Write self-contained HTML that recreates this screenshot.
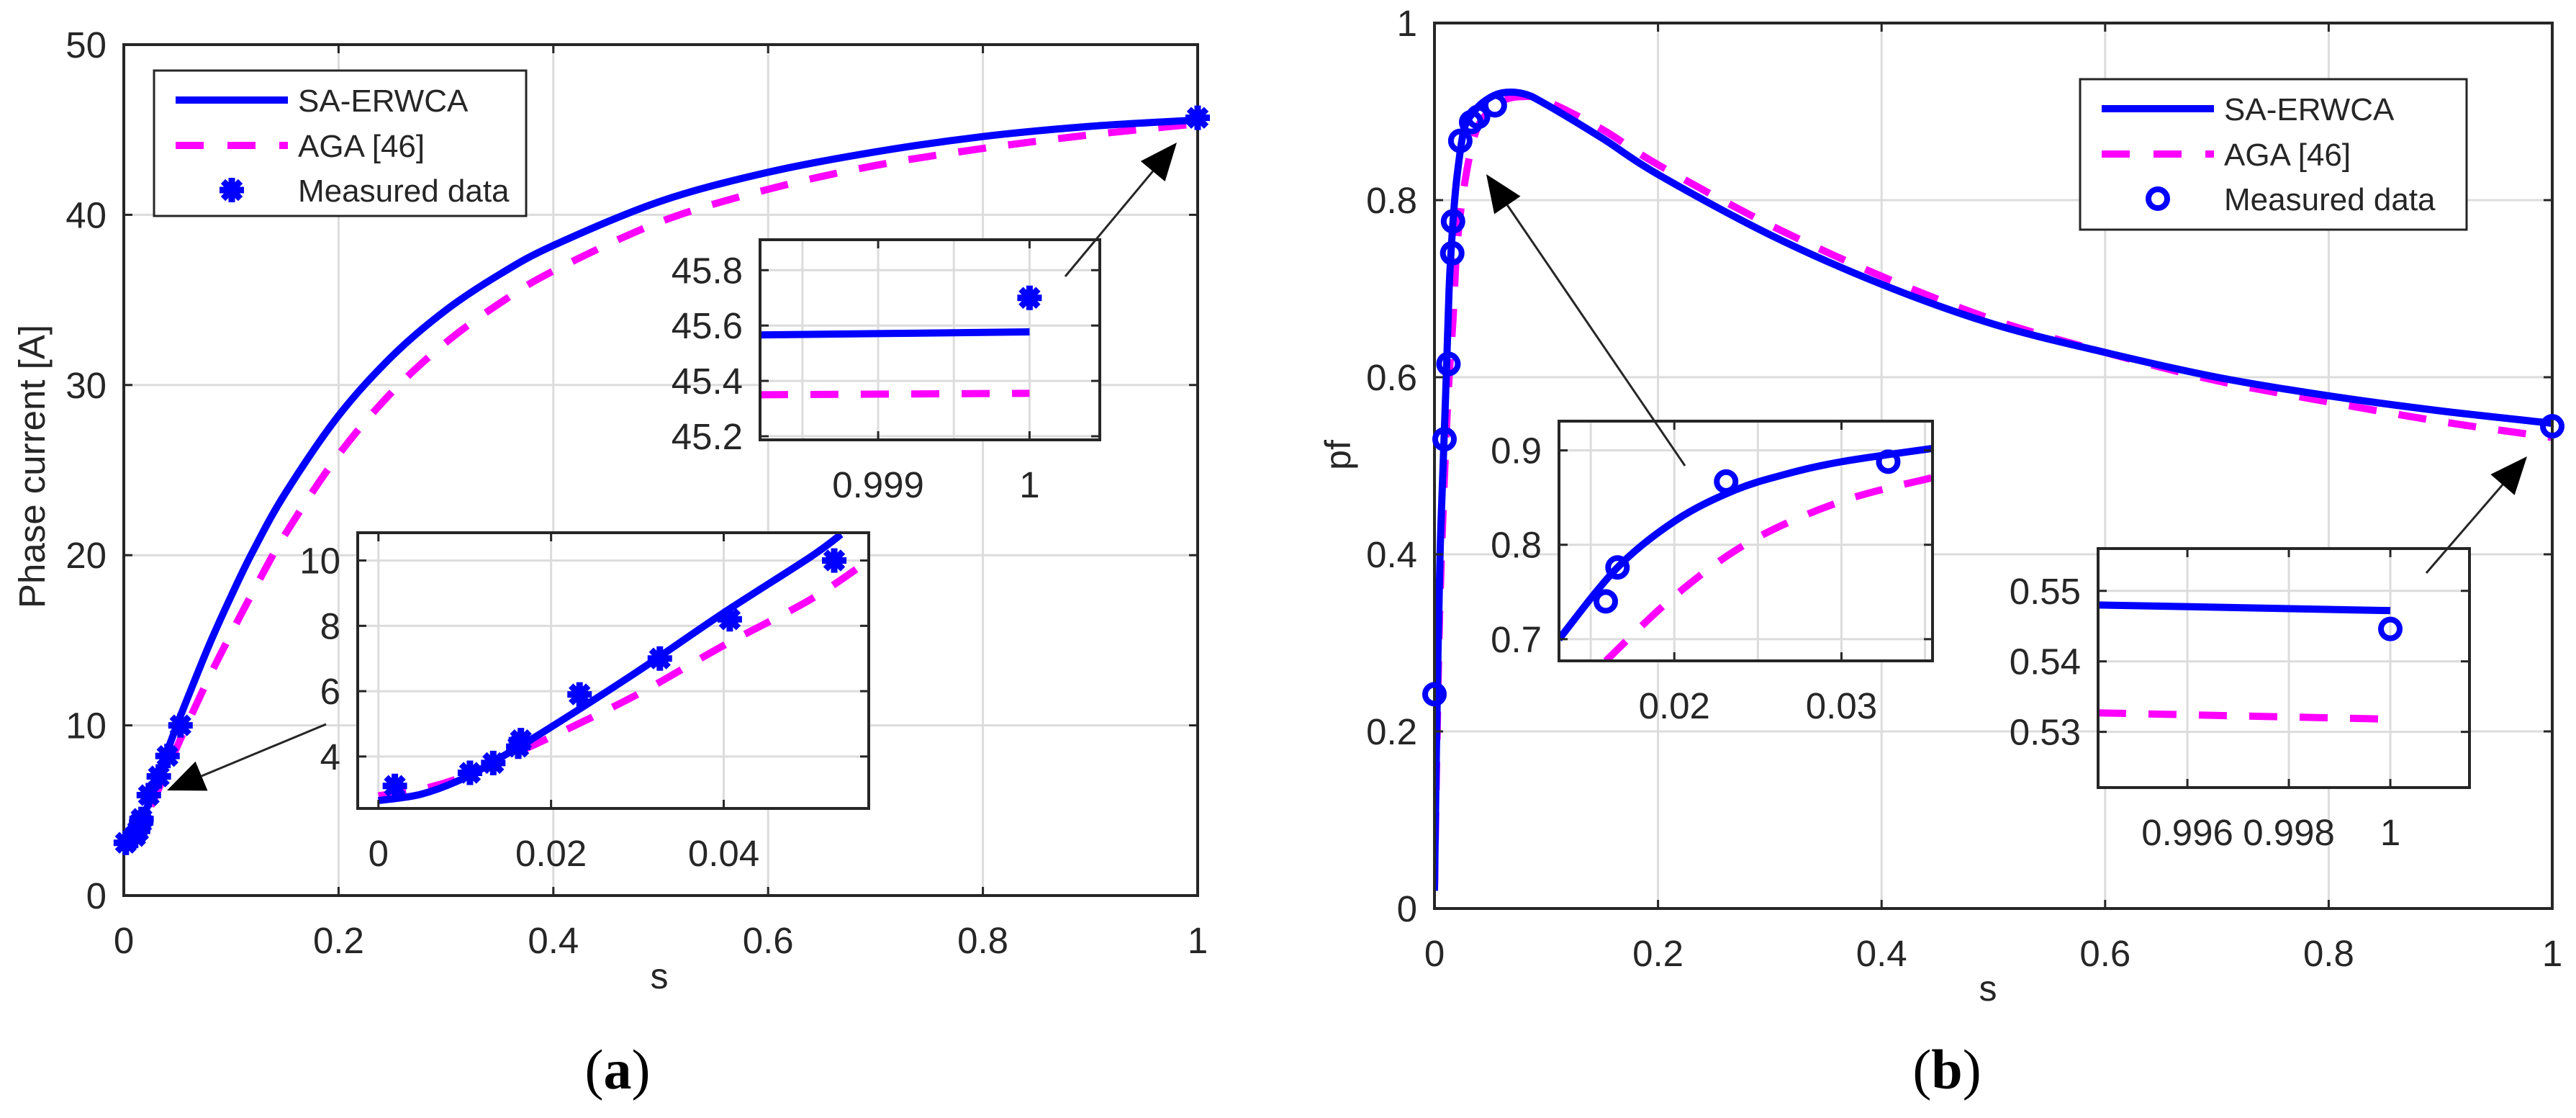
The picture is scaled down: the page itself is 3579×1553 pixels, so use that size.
<!DOCTYPE html>
<html><head><meta charset="utf-8"><style>
html,body{margin:0;padding:0;background:#fff;}
svg{display:block;font-family:"Liberation Sans",Arial,sans-serif;}
</style></head><body>
<svg id="fig" xmlns="http://www.w3.org/2000/svg" width="3579" height="1553" viewBox="0 0 3579 1553"></svg>
<script>
// ---------- Panel (a) data ----------
const aS      = [0,0.01,0.02,0.03,0.04,0.05,0.06,0.08,0.1,0.12,0.15,0.2,0.25,0.3,0.35,0.4,0.5,0.6,0.7,0.8,0.9,1];
const aBlue   = [2.65,3.35,4.9,6.6,8.4,10.1,11.7,14.8,17.6,20.2,23.6,28.2,31.7,34.4,36.5,38.2,40.8,42.5,43.7,44.6,45.2,45.57];
const aMag    = [2.8,3.4,4.6,5.9,7.4,8.8,10.2,12.9,15.4,17.8,21.2,25.9,29.6,32.5,34.8,36.7,39.6,41.5,42.9,43.9,44.7,45.35];
const aMeasS  = [0.0019,0.0106,0.0133,0.0162,0.0165,0.0233,0.0326,0.0407,0.0528,1];
const aMeasI  = [3.1,3.5,3.8,4.3,4.5,5.9,7.0,8.2,10.0,45.7];
const aXTicks = [0,0.2,0.4,0.6,0.8,1];
const aXLabels= ["0","0.2","0.4","0.6","0.8","1"];
const aYTicks = [0,10,20,30,40,50];
const aYLabels= ["0","10","20","30","40","50"];
// inset a1 (near s=1)
const a1S     = [0.99822,1];
const a1Blue  = [45.566,45.577];
const a1Mag   = [45.35,45.355];
const a1XTicks= [0.999,1];
const a1XLabels=["0.999","1"];
const a1XGrid = [0.9985,0.999,0.9995,1];
const a1YTicks= [45.2,45.4,45.6,45.8];
const a1YLabels=["45.2","45.4","45.6","45.8"];
// inset a2 (small s)
const a2S     = [0,0.005,0.01,0.015,0.02,0.03,0.04,0.05,0.0536];
const a2Blue  = [2.65,2.85,3.35,4.1,4.9,6.6,8.4,10.1,10.8];
const a2MS    = [0,0.005,0.01,0.015,0.02,0.03,0.04,0.05,0.0568];
const a2Mag   = [2.8,3.0,3.4,4.0,4.6,5.9,7.4,8.8,10.0];
const a2XTicks= [0,0.02,0.04];
const a2XLabels=["0","0.02","0.04"];
const a2YTicks= [4,6,8,10];
const a2YLabels=["4","6","8","10"];
// ---------- Panel (b) data ----------
const bS      = [0,0.002,0.005,0.01,0.0131,0.0166,0.0201,0.0265,0.0354,0.045,0.06,0.08,0.1,0.15,0.2,0.3,0.4,0.5,0.6,0.7,0.8,0.9,1];
const bBlue   = [0.02,0.2,0.4,0.58,0.70,0.776,0.826,0.88,0.90,0.912,0.921,0.92,0.908,0.87,0.829,0.761,0.705,0.660,0.628,0.600,0.579,0.562,0.548];
const bMag    = [0.02,0.17,0.35,0.52,0.60,0.665,0.747,0.815,0.871,0.895,0.912,0.917,0.912,0.88,0.84,0.772,0.714,0.665,0.628,0.596,0.572,0.550,0.532];
const bMeasS  = [0,0.009,0.0125,0.0159,0.0166,0.0231,0.0328,0.039,0.054,1];
const bMeasP  = [0.242,0.530,0.615,0.740,0.776,0.867,0.888,0.894,0.907,0.5446];
const bXTicks = [0,0.2,0.4,0.6,0.8,1];
const bXLabels= ["0","0.2","0.4","0.6","0.8","1"];
const bYTicks = [0,0.2,0.4,0.6,0.8,1];
const bYLabels= ["0","0.2","0.4","0.6","0.8","1"];
// inset b1 (small s)
const b1S     = [0.0131,0.0166,0.0201,0.0235,0.0265,0.03,0.0354];
const b1Blue  = [0.70,0.776,0.826,0.857,0.874,0.888,0.902];
const b1MS    = [0.0159,0.0201,0.0246,0.03,0.0354];
const b1Mag   = [0.677,0.747,0.804,0.846,0.871];
const b1XTicks= [0.02,0.03];
const b1XLabels=["0.02","0.03"];
const b1XGrid = [0.015,0.02,0.025,0.03,0.035];
const b1YTicks= [0.7,0.8,0.9];
const b1YLabels=["0.7","0.8","0.9"];
// inset b2 (near s=1)
const b2S     = [0.99424,1];
const b2Blue  = [0.548,0.5472];
const b2Mag   = [0.5327,0.5318];
const b2XTicks= [0.996,0.998,1];
const b2XLabels=["0.996","0.998","1"];
const b2YTicks= [0.53,0.54,0.55];
const b2YLabels=["0.53","0.54","0.55"];

const NS="http://www.w3.org/2000/svg";
const svg=document.getElementById('fig');
function el(tag,parent){const e=document.createElementNS(NS,tag);parent.appendChild(e);return e;}
let clipId=0;

function makeAxes(L){
  const g=el('g',svg);
  
  
  const sx=v=>L.x0+(v-L.xmin)/(L.xmax-L.xmin)*(L.x1-L.x0);
  const sy=v=>L.y1-(v-L.ymin)/(L.ymax-L.ymin)*(L.y1-L.y0);
  const bg=el('rect',g);
  
  
  bg.setAttribute('x',L.x0);bg.setAttribute('y',L.y0);bg.setAttribute('width',L.x1-L.x0);bg.setAttribute('height',L.y1-L.y0);bg.setAttribute('fill','#fff');
  (L.xgrid||L.xticks).forEach(v=>{const l=el('line',g);
    
    
    l.setAttribute('x1',sx(v));l.setAttribute('x2',sx(v));l.setAttribute('y1',L.y0);l.setAttribute('y2',L.y1);l.setAttribute('stroke','#dcdcdc');l.setAttribute('stroke-width',3);});
  L.yticks.forEach(v=>{const l=el('line',g);
    
    
    l.setAttribute('x1',L.x0);l.setAttribute('x2',L.x1);l.setAttribute('y1',sy(v));l.setAttribute('y2',sy(v));l.setAttribute('stroke','#dcdcdc');l.setAttribute('stroke-width',3);});
  const cp=el('clipPath',g);const cid='c'+(clipId++);cp.setAttribute('id',cid);
  const cr=el('rect',cp);cr.setAttribute('x',L.x0);cr.setAttribute('y',L.y0);cr.setAttribute('width',L.x1-L.x0);cr.setAttribute('height',L.y1-L.y0);
  const plot=el('g',g);
  
  
  plot.setAttribute('clip-path','url(#'+cid+')');
  const frame=el('g',g);
  
  
  L.xticks.forEach((v,i)=>{
    [L.y1,L.y0].forEach((yy,k)=>{const t=el('line',frame);
      
      
      t.setAttribute('x1',sx(v));t.setAttribute('x2',sx(v));t.setAttribute('y1',yy);t.setAttribute('y2',k?yy+12:yy-12);t.setAttribute('stroke','#262626');t.setAttribute('stroke-width',3);});
    const tx=el('text',g);
    
    
    tx.setAttribute('x',sx(v));tx.setAttribute('y',L.y1+80);tx.setAttribute('text-anchor','middle');tx.setAttribute('font-size',L.fs);tx.setAttribute('fill','#262626');tx.textContent=L.xlabels[i];});
  L.yticks.forEach((v,i)=>{
    [L.x0,L.x1].forEach((xx,k)=>{const t=el('line',frame);
      
      
      t.setAttribute('x1',xx);t.setAttribute('x2',k?xx-12:xx+12);t.setAttribute('y1',sy(v));t.setAttribute('y2',sy(v));t.setAttribute('stroke','#262626');t.setAttribute('stroke-width',3);});
    const tx=el('text',g);
    
    
    tx.setAttribute('x',L.x0-24);tx.setAttribute('y',sy(v)+18);tx.setAttribute('text-anchor','end');tx.setAttribute('font-size',L.fs);tx.setAttribute('fill','#262626');tx.textContent=L.ylabels[i];});
  const fr=el('rect',frame);
  
  
  fr.setAttribute('x',L.x0);fr.setAttribute('y',L.y0);fr.setAttribute('width',L.x1-L.x0);fr.setAttribute('height',L.y1-L.y0);fr.setAttribute('fill','none');fr.setAttribute('stroke','#262626');fr.setAttribute('stroke-width',4);
  return {sx,sy,plot,g,frame};
}
function curvePath(xs,ys){
  const p=xs.map((x,i)=>[x,ys[i]]);let d='M'+p[0][0]+','+p[0][1];
  for(let i=0;i<p.length-1;i++){const p0=p[i-1]||p[i],p1=p[i],p2=p[i+1],p3=p[i+2]||p2;
    const c1=[p1[0]+(p2[0]-p0[0])/6,p1[1]+(p2[1]-p0[1])/6],c2=[p2[0]-(p3[0]-p1[0])/6,p2[1]-(p3[1]-p1[1])/6];
    d+=' C'+c1[0]+','+c1[1]+' '+c2[0]+','+c2[1]+' '+p2[0]+','+p2[1];}
  return d;}
function drawLine(ax,xs,ys,color,dash,name){
  const pth=el('path',ax.plot);
  
  
  pth.setAttribute('d',curvePath(xs.map(ax.sx),ys.map(ax.sy)));
  pth.setAttribute('fill','none');pth.setAttribute('stroke',color);pth.setAttribute('stroke-width',10);
  if(dash)pth.setAttribute('stroke-dasharray','39 31');
}
function star(parent,cx,cy,r){const g=el('g',parent);
  
  
  for(let k=0;k<4;k++){const a=k*Math.PI/4;const l=el('line',g);
    l.setAttribute('x1',cx-r*Math.cos(a));l.setAttribute('y1',cy-r*Math.sin(a));l.setAttribute('x2',cx+r*Math.cos(a));l.setAttribute('y2',cy+r*Math.sin(a));
    l.setAttribute('stroke','#0000ff');l.setAttribute('stroke-width',9);}
  const c=el('circle',g);c.setAttribute('cx',cx);c.setAttribute('cy',cy);c.setAttribute('r',r*0.7);c.setAttribute('fill','#0000ff');}
function ring(parent,cx,cy){const c=el('circle',parent);
  
  
  c.setAttribute('cx',cx);c.setAttribute('cy',cy);c.setAttribute('r',13);c.setAttribute('fill','none');c.setAttribute('stroke','#0000ff');c.setAttribute('stroke-width',8);}
function drawStars(ax,xs,ys,layer){xs.forEach((x,i)=>star(layer||ax.g,ax.sx(x),ax.sy(ys[i]),17));}
function drawRings(ax,xs,ys,layer){xs.forEach((x,i)=>ring(layer||ax.g,ax.sx(x),ax.sy(ys[i])));}
function text(str,x,y,fs,name,opts){const t=el('text',svg);
  
  
  t.setAttribute('x',x);t.setAttribute('y',y);t.setAttribute('font-size',fs);t.setAttribute('fill',(opts&&opts.fill)||'#262626');
  if(opts&&opts.anchor)t.setAttribute('text-anchor',opts.anchor);
  if(opts&&opts.rot)t.setAttribute('transform','rotate(-90 '+x+' '+y+')');
  t.textContent=str;return t;}
function arrow(x1,y1,x2,y2,name){const g=el('g',svg);
  
  
  const dx=x2-x1,dy=y2-y1,len=Math.hypot(dx,dy),ux=dx/len,uy=dy/len,h=52,w=22;
  const bx=x2-ux*h,by=y2-uy*h;
  const l=el('line',g);l.setAttribute('x1',x1);l.setAttribute('y1',y1);l.setAttribute('x2',bx);l.setAttribute('y2',by);l.setAttribute('stroke','#262626');l.setAttribute('stroke-width',3);
  const p=el('polygon',g);p.setAttribute('points',x2+','+y2+' '+(bx-uy*w)+','+(by+ux*w)+' '+(bx+uy*w)+','+(by-ux*w));p.setAttribute('fill','#000');}
function legend(x,y,w,h,marker,name){const g=el('g',svg);
  
  
  const r=el('rect',g);r.setAttribute('x',x);r.setAttribute('y',y);r.setAttribute('width',w);r.setAttribute('height',h);r.setAttribute('fill','#fff');r.setAttribute('stroke','#262626');r.setAttribute('stroke-width',3);
  const rows=[y+41,y+104,y+166];const lx=x+30,lx2=x+186,tx=x+200;
  const e1=el('g',g);
  
  
  const l1=el('line',e1);l1.setAttribute('x1',lx);l1.setAttribute('x2',lx2);l1.setAttribute('y1',rows[0]);l1.setAttribute('y2',rows[0]);l1.setAttribute('stroke','#0000ff');l1.setAttribute('stroke-width',10);
  const t1=el('text',e1);t1.setAttribute('x',tx);t1.setAttribute('y',rows[0]+16);t1.setAttribute('font-size',44);t1.setAttribute('fill','#262626');t1.textContent='SA-ERWCA';
  const e2=el('g',g);
  
  
  const l2=el('line',e2);l2.setAttribute('x1',lx);l2.setAttribute('x2',lx2);l2.setAttribute('y1',rows[1]);l2.setAttribute('y2',rows[1]);l2.setAttribute('stroke','#ff00ff');l2.setAttribute('stroke-width',10);l2.setAttribute('stroke-dasharray','39 33');
  const t2=el('text',e2);t2.setAttribute('x',tx);t2.setAttribute('y',rows[1]+16);t2.setAttribute('font-size',44);t2.setAttribute('fill','#262626');t2.textContent='AGA [46]';
  const e3=el('g',g);
  
  
  if(marker==='star')star(e3,(lx+lx2)/2,rows[2],17);else ring(e3,(lx+lx2)/2,rows[2]);
  const t3=el('text',e3);t3.setAttribute('x',tx);t3.setAttribute('y',rows[2]+16);t3.setAttribute('font-size',44);t3.setAttribute('fill','#262626');t3.textContent='Measured data';
}

// ===== Panel (a) =====
const A=makeAxes({name:'panel-a-axes',x0:172,x1:1664,y0:62,y1:1244,xmin:0,xmax:1,ymin:0,ymax:50,xticks:aXTicks,xlabels:aXLabels,yticks:aYTicks,ylabels:aYLabels,fs:51});
drawLine(A,aS,aMag,'#ff00ff',true,'aga-curve');
drawLine(A,aS,aBlue,'#0000ff',false,'sa-erwca-curve');
drawStars(A,aMeasS,aMeasI);
text('Phase current [A]',62,648,51,'y-axis-title',{anchor:'middle',rot:true});
text('s',916,1373,50,'x-axis-title',{anchor:'middle'});
const capA=text('',858,1512,78,'caption-a',{anchor:'middle',fill:'#000'});
capA.setAttribute('font-family','"Liberation Serif",serif');
capA.innerHTML='(<tspan font-weight="bold">a</tspan>)';
legend(214,98,517,202,'star','legend-a');
const A1=makeAxes({name:'inset-a-high-slip',x0:1056,x1:1528,y0:333,y1:611,xmin:0.99822,xmax:1.000464,ymin:45.187,ymax:45.91,xticks:a1XTicks,xlabels:a1XLabels,xgrid:a1XGrid,yticks:a1YTicks,ylabels:a1YLabels,fs:51});
drawLine(A1,a1S,a1Mag,'#ff00ff',true,'inset-aga-curve');
drawLine(A1,a1S,a1Blue,'#0000ff',false,'inset-sa-erwca-curve');
drawStars(A1,[1],[45.7]);
const A2=makeAxes({name:'inset-a-low-slip',x0:497,x1:1207,y0:740,y1:1123,xmin:-0.0024,xmax:0.0568,ymin:2.41,ymax:10.85,xticks:a2XTicks,xlabels:a2XLabels,yticks:a2YTicks,ylabels:a2YLabels,fs:51});
drawLine(A2,a2MS,a2Mag,'#ff00ff',true,'inset-aga-curve');
drawLine(A2,a2S,a2Blue,'#0000ff',false,'inset-sa-erwca-curve');
drawStars(A2,aMeasS.slice(0,9),aMeasI.slice(0,9),A2.plot);
arrow(1480,384,1635,198,'arrow-to-high-slip');
arrow(453,1006,232,1098,'arrow-to-low-slip');

// ===== Panel (b) =====
const B=makeAxes({name:'panel-b-axes',x0:1993,x1:3546,y0:32,y1:1262,xmin:0,xmax:1,ymin:0,ymax:1,xticks:bXTicks,xlabels:bXLabels,yticks:bYTicks,ylabels:bYLabels,fs:51});
drawLine(B,bS,bMag,'#ff00ff',true,'aga-curve');
drawLine(B,bS,bBlue,'#0000ff',false,'sa-erwca-curve');
drawRings(B,bMeasS,bMeasP);
text('pf',1876,632,50,'y-axis-title',{anchor:'middle',rot:true});
text('s',2762,1390,50,'x-axis-title',{anchor:'middle'});
const capB=text('',2705,1512,78,'caption-b',{anchor:'middle',fill:'#000'});
capB.setAttribute('font-family','"Liberation Serif",serif');
capB.innerHTML='(<tspan font-weight="bold">b</tspan>)';
legend(2890,110,537,209,'ring','legend-b');
const B1=makeAxes({name:'inset-b-low-slip',x0:2166,x1:2685,y0:585,y1:918,xmin:0.0131,xmax:0.03545,ymin:0.677,ymax:0.931,xticks:b1XTicks,xlabels:b1XLabels,xgrid:b1XGrid,yticks:b1YTicks,ylabels:b1YLabels,fs:51});
drawLine(B1,b1MS,b1Mag,'#ff00ff',true,'inset-aga-curve');
drawLine(B1,b1S,b1Blue,'#0000ff',false,'inset-sa-erwca-curve');
drawRings(B1,bMeasS.slice(3,7),bMeasP.slice(3,7),B1.plot);
const B2=makeAxes({name:'inset-b-high-slip',x0:2915,x1:3431,y0:762,y1:1094,xmin:0.99424,xmax:1.00156,ymin:0.5221,ymax:0.556,xticks:b2XTicks,xlabels:b2XLabels,yticks:b2YTicks,ylabels:b2YLabels,fs:51});
drawLine(B2,b2S,b2Mag,'#ff00ff',true,'inset-aga-curve');
drawLine(B2,b2S,b2Blue,'#0000ff',false,'inset-sa-erwca-curve');
drawRings(B2,[1],[0.5446]);
arrow(2341,647,2065,242,'arrow-to-low-slip');
arrow(3371,796,3511,634,'arrow-to-high-slip');
</script>
</body></html>
